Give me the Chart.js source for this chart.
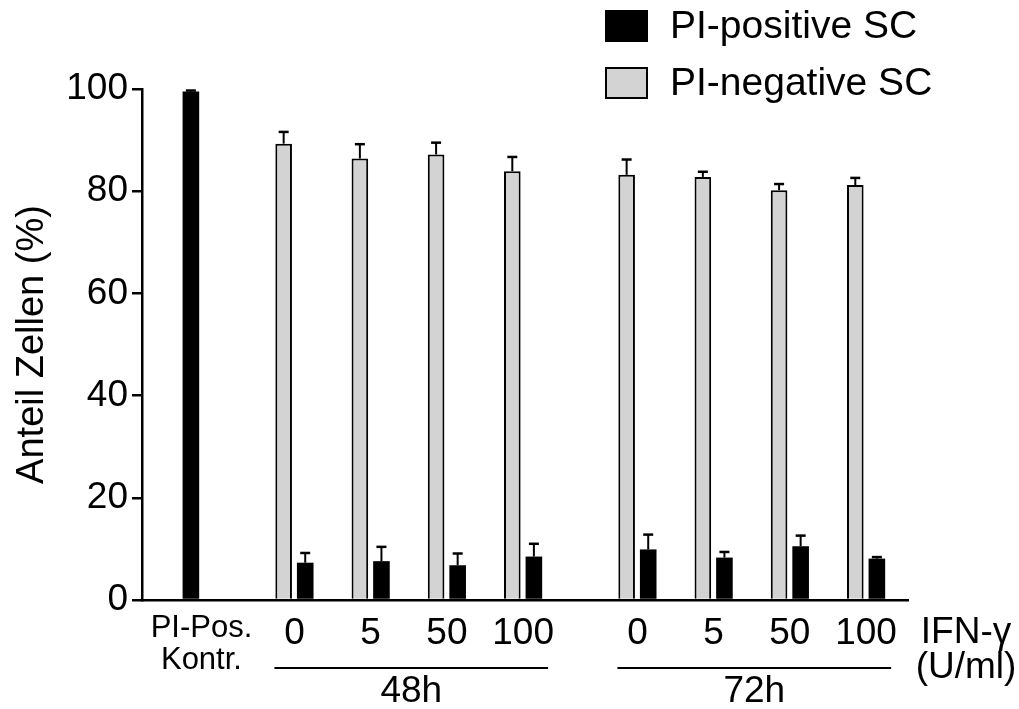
<!DOCTYPE html>
<html>
<head>
<meta charset="utf-8">
<script src="https://cdn.jsdelivr.net/npm/chart.js@4/dist/chart.umd.min.js"></script>
<style>
  body { margin: 0; background: #fff; }
  #wrap { width: 1019px; height: 709px; }
</style>
</head>
<body>
<div id="wrap"><canvas id="myBar" width="1019" height="709"></canvas></div>
<script>
// groups along the x axis (dose in U/ml), and which time block they belong to
var groupLabels = ['PI-Pos. Kontr.', '0', '5', '50', '100', '0', '5', '50', '100'];
var groupBlock  = [0, 1, 1, 1, 1, 2, 2, 2, 2];
var blockLabels = ['', '48h', '72h'];

// PI-negative SC (grey) and PI-positive SC (black), mean and upper error
var piNeg    = [null, 89.3, 86.4, 87.2, 83.9, 83.2, 82.8, 80.2, 81.2];
var piNegErr = [null, 2.3, 2.8, 2.3, 2.8, 3.0, 1.0, 1.2, 1.4];
var piPos    = [99.5, 7.3, 7.6, 6.8, 8.5, 9.9, 8.3, 10.5, 8.1];
var piPosErr = [0.2, 1.9, 2.8, 2.3, 2.5, 2.9, 1.1, 2.1, 0.3];

var yTicks = [0, 20, 40, 60, 80, 100];

// x position of each group: 1 apart inside a block, 1.5 between blocks
var xPos = [];
var p = 0;
for (var i = 0; i < groupLabels.length; i++) {
  if (i > 0) p += (groupBlock[i] != groupBlock[i - 1]) ? 1.5 : 1;
  xPos.push(p);
}

var fontFam = "'Liberation Sans', Arial, sans-serif";
Chart.defaults.font.family = fontFam;
Chart.defaults.color = '#000';

function toPoints(vals) {
  return xPos.map(function (x, i) { return { x: x, y: vals[i] }; });
}

// upward error bars with a cap
var errorBars = {
  id: 'errorBars',
  afterDatasetsDraw: function (chart) {
    var ctx = chart.ctx;
    var ys = chart.scales.y;
    ctx.save();
    ctx.strokeStyle = '#000';
    chart.data.datasets.forEach(function (ds, di) {
      var meta = chart.getDatasetMeta(di);
      meta.data.forEach(function (el, i) {
        var v = ds.data[i].y, e = ds.errors[i];
        if (v == null || e == null) return;
        var top = ys.getPixelForValue(v + e);
        ctx.lineWidth = 2;
        ctx.beginPath();
        ctx.moveTo(el.x, el.y);
        ctx.lineTo(el.x, top);
        ctx.stroke();
        ctx.lineWidth = 2.5;
        ctx.beginPath();
        ctx.moveTo(el.x - 5, top);
        ctx.lineTo(el.x + 5, top);
        ctx.stroke();
      });
    });
    ctx.restore();
  }
};

// legend top right, time block lines and the IFN-gamma axis note
var extras = {
  id: 'extras',
  afterDraw: function (chart) {
    var ctx = chart.ctx;
    var xs = chart.scales.x;
    ctx.save();
    ctx.font = '39px ' + fontFam;
    ctx.textBaseline = 'middle';
    ctx.textAlign = 'left';
    chart.data.datasets.slice().reverse().forEach(function (ds, k) {
      var y = 10 + k * 57;
      ctx.fillStyle = ds.backgroundColor;
      ctx.fillRect(605, y, 43, 32);
      ctx.lineWidth = 2;
      ctx.strokeStyle = ds.borderColor;
      ctx.strokeRect(606, y + 1, 41, 30);
      ctx.fillStyle = '#000';
      ctx.fillText(ds.label, 670, y + 17);
    });

    // block lines under the dose labels
    ctx.font = '37px ' + fontFam;
    for (var b = 1; b < blockLabels.length; b++) {
      var first = null, last = null;
      for (var i = 0; i < groupBlock.length; i++) {
        if (groupBlock[i] == b) { if (first == null) first = xPos[i]; last = xPos[i]; }
      }
      var x1 = xs.getPixelForValue(first) - 20;
      var x2 = xs.getPixelForValue(last) + 25;
      ctx.strokeStyle = '#000';
      ctx.lineWidth = 2;
      ctx.beginPath();
      ctx.moveTo(x1, 668);
      ctx.lineTo(x2, 668);
      ctx.stroke();
      ctx.textAlign = 'center';
      ctx.fillText(blockLabels[b], (x1 + x2) / 2, 692);
    }

    ctx.textAlign = 'center';
    ctx.fillText('IFN-\u03b3', 966, 633);
    ctx.fillText('(U/ml)', 966, 668);
    ctx.restore();
  }
};

var ctx = document.getElementById('myBar').getContext('2d');
var myChart = new Chart(ctx, {
  type: 'bar',
  data: {
    datasets: [
      {
        label: 'PI-negative SC',
        data: toPoints(piNeg),
        errors: piNegErr,
        backgroundColor: '#d3d3d3',
        borderColor: '#000',
        borderWidth: 2,
        categoryPercentage: 0.566,
        barPercentage: 0.77
      },
      {
        label: 'PI-positive SC',
        data: toPoints(piPos),
        errors: piPosErr,
        backgroundColor: '#000',
        borderColor: '#000',
        borderWidth: 0,
        categoryPercentage: 0.566,
        barPercentage: 0.77
      }
    ]
  },
  options: {
    responsive: false,
    animation: false,
    layout: { padding: { left: 0, top: 89, right: 111, bottom: 0 } },
    plugins: {
      legend: { display: false },
      tooltip: { enabled: false }
    },
    scales: {
      x: {
        type: 'linear',
        min: -0.5,
        max: 9.55,
        offset: false,
        grid: { display: false, drawTicks: false, offset: false },
        border: { color: '#000', width: 2.5 },
        afterBuildTicks: function (scale) {
          // the control label sits a bit right of its lone black bar
          scale.ticks = xPos.map(function (v, i) { return { value: i === 0 ? v + 0.28 : v }; });
        },
        afterFit: function (scale) { scale.height = 109; },
        ticks: {
          padding: 12,
          maxRotation: 0,
          autoSkip: false,
          color: '#000',
          font: function (c) { return c.index === 0 ? { size: 31, lineHeight: 1.05 } : { size: 37 }; },
          callback: function (value, index) {
            var l = groupLabels[index];
            return index === 0 ? l.split(' ') : l;
          }
        }
      },
      y: {
        min: 0,
        max: 100,
        afterBuildTicks: function (scale) {
          scale.ticks = yTicks.map(function (v) { return { value: v }; });
        },
        afterFit: function (scale) { scale.width = 142; },
        grid: { drawOnChartArea: false, drawTicks: true, tickLength: 10, color: '#000', lineWidth: 2.5 },
        border: { color: '#000', width: 2.5 },
        ticks: { padding: 4, color: '#000', font: { size: 37 } },
        title: {
          display: true,
          text: 'Anteil Zellen (%)',
          color: '#000',
          font: { size: 38 },
          padding: { top: 10 }
        }
      }
    }
  },
  plugins: [errorBars, extras]
});
</script>
</body>
</html>
